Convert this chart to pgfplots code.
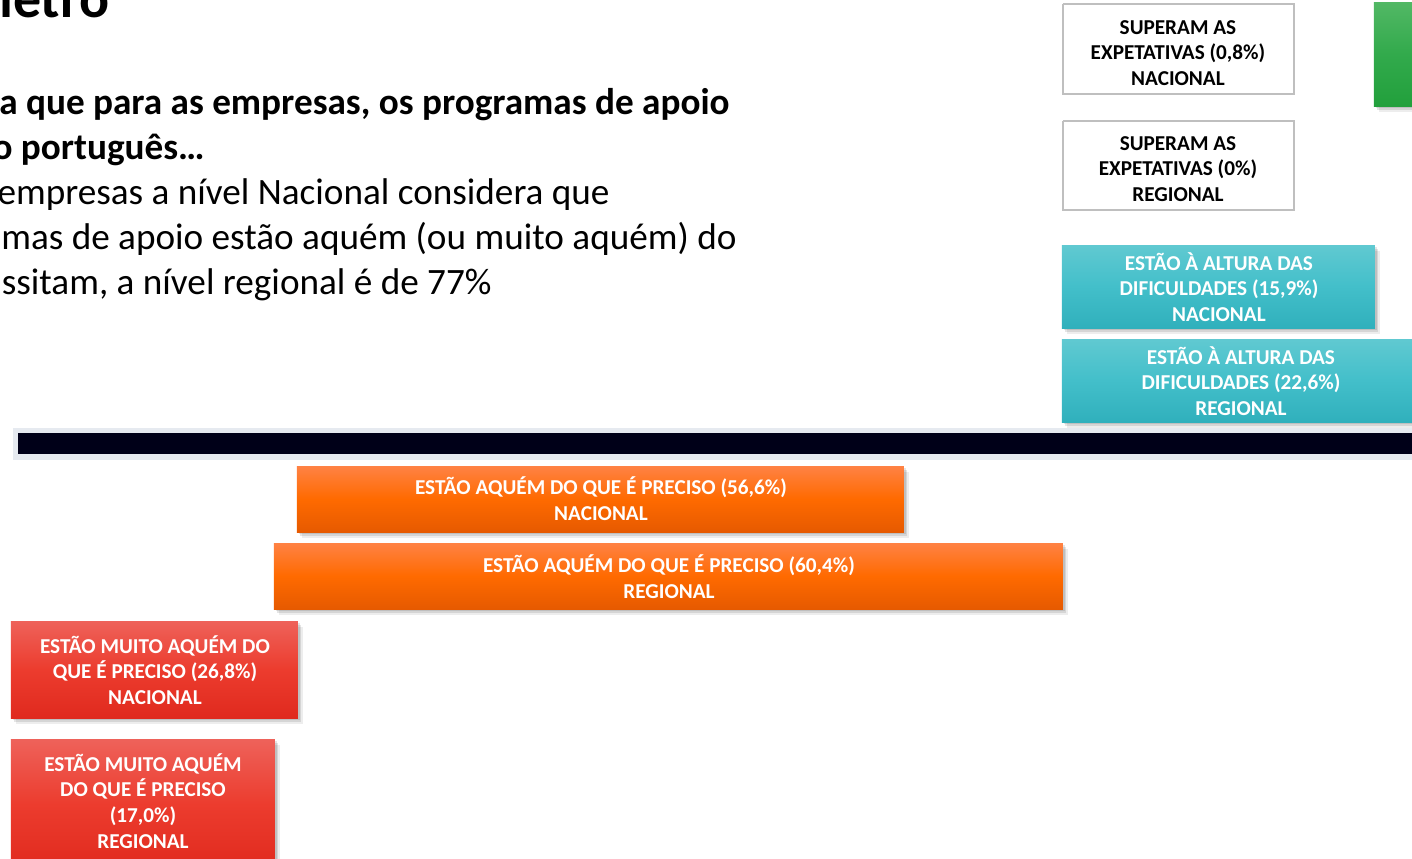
\documentclass[border=0pt]{standalone}
\usepackage{pgfplots}
\pgfplotsset{compat=1.18}
\usepackage{fontspec}
\setmainfont{Carlito}

\definecolor{navy}{HTML}{000018}
\definecolor{navyedge}{HTML}{E6EAF0}
\definecolor{boxedge}{HTML}{BFBFBF}
\definecolor{orT}{HTML}{FF8244}
\definecolor{orM}{HTML}{FF6A00}
\definecolor{orB}{HTML}{E65A00}
\definecolor{reT}{HTML}{EE625A}
\definecolor{reM}{HTML}{EC3C2E}
\definecolor{reB}{HTML}{E02A1E}
\definecolor{teT}{HTML}{60C9D1}
\definecolor{teM}{HTML}{43BFCA}
\definecolor{teB}{HTML}{30B0BC}
\definecolor{grT}{HTML}{52B865}
\definecolor{grM}{HTML}{32AA4C}
\definecolor{grB}{HTML}{22A03C}

% soft drop shadow under a bar: x1 y1 x2 y2
\newcommand\shadowbar[4]{%
  \addplot[draw=none, fill=black, opacity=0.10, xshift=0.8bp, yshift=-1.2bp]
    coordinates {(#1,#2) (#3,#2) (#3,#4) (#1,#4)};
  \addplot[draw=none, fill=black, opacity=0.10, xshift=1.6bp, yshift=-2.2bp]
    coordinates {(#1,#2) (#3,#2) (#3,#4) (#1,#4)};
  \addplot[draw=none, fill=black, opacity=0.07, xshift=2.4bp, yshift=-3.2bp]
    coordinates {(#1,#2) (#3,#2) (#3,#4) (#1,#4)};
}
% shaded bar: colour prefix, x1 y1 x2 y2
\newcommand\shadedbar[5]{%
  \shadowbar{#2}{#3}{#4}{#5}
  \addplot[draw=none, top color=#1T, bottom color=#1B, middle color=#1M]
    coordinates {(#2,#3) (#4,#3) (#4,#5) (#2,#5)};
}

\tikzset{
  lab/.style={font=\bfseries\fontsize{10.6bp}{12.85bp}\selectfont, align=center, inner sep=0pt},
  para/.style={font=\fontsize{18.6bp}{22bp}\selectfont, inner sep=0pt, anchor=base east},
}

\begin{document}
\begin{tikzpicture}
\useasboundingbox (0,0) rectangle (706bp,429.5bp);
\clip (0,0) rectangle (706bp,429.5bp);
\begin{axis}[
  x=0.5bp, y=0.5bp,
  xmin=0, xmax=1412, ymin=0, ymax=859,
  y dir=reverse,
  hide axis, clip=false,
  anchor=south west, at={(0,0)},
]
% dark band (axis of the scale)
\addplot[draw=none, fill=navyedge] coordinates {(13,428) (1420,428) (1420,460) (13,460)};
\addplot[draw=none, fill=navy] coordinates {(18,433) (1420,433) (1420,454) (18,454)};

% superam as expetativas
\addplot[draw=boxedge, line width=1bp, fill=white] coordinates {(1063,4) (1294,4) (1294,94) (1063,94) (1063,4)};
\addplot[draw=boxedge, line width=1bp, fill=white] coordinates {(1063,121) (1294,121) (1294,210) (1063,210) (1063,121)};
\shadedbar{gr}{1374}{2}{1420}{106}

% estao a altura das dificuldades
\shadedbar{te}{1062}{245}{1375}{328}
\shadedbar{te}{1062}{339}{1420}{422}

% estao aquem do que e preciso
\shadedbar{or}{297}{466}{904}{532}
\shadedbar{or}{274}{543}{1063}{609}

% estao muito aquem do que e preciso
\shadedbar{re}{11}{621}{298}{718}
\shadedbar{re}{11}{739}{275}{870}

% labels
\node[lab] at (axis cs:1178,53) {SUPERAM AS\\EXPETATIVAS (0,8\%)\\NACIONAL};
\node[lab] at (axis cs:1178,169) {SUPERAM AS\\EXPETATIVAS (0\%)\\REGIONAL};
\node[lab, text=white] at (axis cs:1219,287) {ESTÃO À ALTURA DAS\\DIFICULDADES (15,9\%)\\NACIONAL};
\node[lab, text=white] at (axis cs:1241,381) {ESTÃO À ALTURA DAS\\DIFICULDADES (22,6\%)\\REGIONAL};
\node[lab, text=white] at (axis cs:601,499) {ESTÃO AQUÉM DO QUE É PRECISO (56,6\%)\\NACIONAL};
\node[lab, text=white] at (axis cs:669,577) {ESTÃO AQUÉM DO QUE É PRECISO (60,4\%)\\REGIONAL};
\node[lab, text=white] at (axis cs:155,670) {ESTÃO MUITO AQUÉM DO\\QUE É PRECISO (26,8\%)\\NACIONAL};
\node[lab, text=white] at (axis cs:143,801) {ESTÃO MUITO AQUÉM\\DO QUE É PRECISO\\(17,0\%)\\REGIONAL};

% slide text, as far as it is seen (the slide is cropped on the left and top)
\node[inner sep=0pt, anchor=base east, font=\bfseries\fontsize{28bp}{34bp}\selectfont] at (axis cs:110,17) {metro};
\node[para, font=\bfseries\fontsize{18.6bp}{22bp}\selectfont] at (axis cs:730,114) {a que para as empresas, os programas de apoio};
\node[para, font=\bfseries\fontsize{18.6bp}{22bp}\selectfont] at (axis cs:205,159) {o português…};
\node[para] at (axis cs:610,204) {empresas a nível Nacional considera que};
\node[para] at (axis cs:737,249) {mas de apoio estão aquém (ou muito aquém) do};
\node[para] at (axis cs:492,294) {ssitam, a nível regional é de 77\%};
\end{axis}
\end{tikzpicture}
\end{document}
